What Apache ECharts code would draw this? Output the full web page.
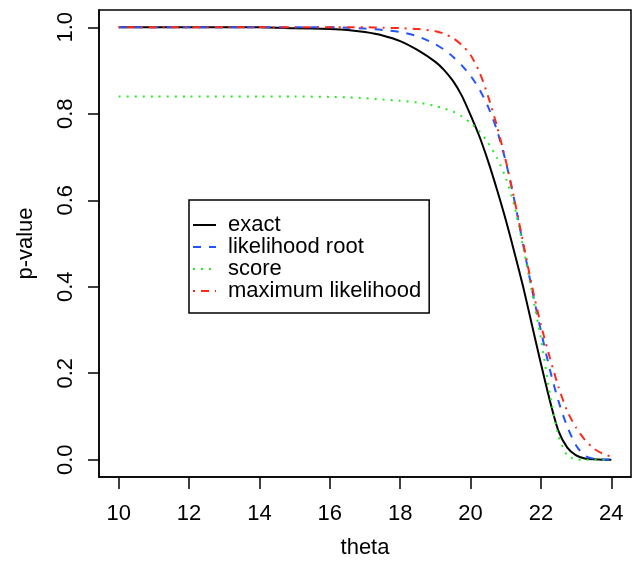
<!DOCTYPE html>
<html>
<head>
<meta charset="utf-8">
<script src="https://cdn.jsdelivr.net/npm/echarts@6/dist/echarts.min.js"></script>
<style>
  html, body { margin: 0; padding: 0; background: #fff; }
  #chart { width: 638px; height: 572px; }
</style>
</head>
<body>
<div id="chart"></div>
<script>
// values
var theta = [10, 11, 12, 13, 14, 15, 16, 16.5, 17, 17.5, 18, 18.5, 19, 19.25, 19.5, 19.75, 20, 20.25, 20.5, 20.75,
  21, 21.25, 21.5, 21.75, 22, 22.25, 22.5, 22.75, 23, 23.25, 23.5, 23.75, 24];
var exact = [1, 1, 1, 1, 1, 0.998, 0.996, 0.994, 0.989, 0.981, 0.968, 0.947, 0.920, 0.901, 0.876, 0.842, 0.797, 0.748, 0.690, 0.625,
  0.555, 0.478, 0.398, 0.31, 0.222, 0.138, 0.066, 0.028, 0.010, 0.003, 0.001, 0, 0];
var likRoot = [1, 1, 1, 1, 1, 1, 1, 0.999, 0.997, 0.994, 0.989, 0.979, 0.961, 0.948, 0.932, 0.912, 0.888, 0.857, 0.816, 0.762,
  0.690, 0.598, 0.495, 0.392, 0.298, 0.210, 0.135, 0.076, 0.033, 0.009, 0.002, 0.001, 0];
var score = [0.840, 0.840, 0.840, 0.840, 0.840, 0.840, 0.839, 0.838, 0.836, 0.833, 0.830, 0.826, 0.818, 0.812, 0.805, 0.794, 0.779, 0.760, 0.733, 0.698,
  0.652, 0.585, 0.49, 0.385, 0.28, 0.155, 0.055, 0.010, 0.001, 0, 0, 0, 0];
var maxLik = [1, 1, 1, 1, 1, 1, 1, 1, 1, 0.999, 0.998, 0.996, 0.991, 0.985, 0.975, 0.959, 0.936, 0.897, 0.840, 0.772,
  0.692, 0.600, 0.50, 0.400, 0.312, 0.237, 0.168, 0.112, 0.074, 0.046, 0.026, 0.014, 0.007];
var xTicks = [10, 12, 14, 16, 18, 20, 22, 24];
var yTicks = [0, 0.2, 0.4, 0.6, 0.8, 1.0];
var names = ['exact', 'likelihood root', 'score', 'maximum likelihood'];

function pairs(ys) {
  return theta.map(function (t, i) { return [t, ys[i]]; });
}

var font = 'Liberation Sans, Arial, Helvetica, sans-serif';
var fs = 22;
var chart = echarts.init(document.getElementById('chart'));

function line(name, ys, color, dash) {
  return {
    name: name,
    type: 'line',
    data: pairs(ys),
    showSymbol: false,
    symbol: 'none',
    smooth: 0.25,
    animation: false,
    lineStyle: { color: color, width: 2, type: dash },
    itemStyle: { color: color }
  };
}

var axisBlack = { color: '#000', width: 1.5 };

var option = {
  animation: false,
  backgroundColor: '#fff',
  grid: {
    left: 99, right: 7, top: 10, bottom: 95,
    show: true, borderColor: '#000', borderWidth: 1.5,
    outerBoundsMode: 'none'
  },
  legend: {
    orient: 'vertical',
    left: 189, top: 200,
    padding: [14, 8, 11, 3],
    borderColor: '#000', borderWidth: 1.5,
    itemWidth: 23, itemHeight: 14, itemGap: 0,
    selectedMode: false,
    itemStyle: { opacity: 0, borderWidth: 0 },
    lineStyle: { width: 2 },
    textStyle: { fontFamily: font, fontSize: fs, color: '#000', lineHeight: 22, padding: [0, 0, 0, 7] },
    data: names
  },
  xAxis: {
    type: 'value',
    min: 9.44, max: 24.56,
    name: 'theta',
    nameLocation: 'middle',
    nameGap: 60,
    nameTextStyle: { fontFamily: font, fontSize: fs, color: '#000' },
    axisLine: { show: true, onZero: false, lineStyle: axisBlack },
    splitLine: { show: false },
    axisTick: { show: true, inside: false, length: 12, customValues: xTicks, lineStyle: axisBlack },
    axisLabel: { customValues: xTicks, margin: 26, fontFamily: font, fontSize: fs, color: '#000' }
  },
  yAxis: {
    type: 'value',
    min: -0.04, max: 1.04,
    name: 'p-value',
    nameLocation: 'middle',
    nameGap: 62,
    nameTextStyle: { fontFamily: font, fontSize: fs, color: '#000' },
    axisLine: { show: true, onZero: false, lineStyle: axisBlack },
    splitLine: { show: false },
    axisTick: { show: true, inside: false, length: 11, customValues: yTicks, lineStyle: axisBlack },
    axisLabel: {
      customValues: yTicks, rotate: 90, margin: 22,
      fontFamily: font, fontSize: fs, color: '#000',
      formatter: function (v) { return v.toFixed(1); }
    }
  },
  series: [
    line(names[0], exact, '#000000', 'solid'),
    line(names[1], likRoot, '#2255ff', [8, 8]),
    line(names[2], score, '#22ee22', [2, 6]),
    line(names[3], maxLik, '#ff2a1a', [2, 6, 8, 6])
  ]
};
chart.setOption(option);
</script>
</body>
</html>
